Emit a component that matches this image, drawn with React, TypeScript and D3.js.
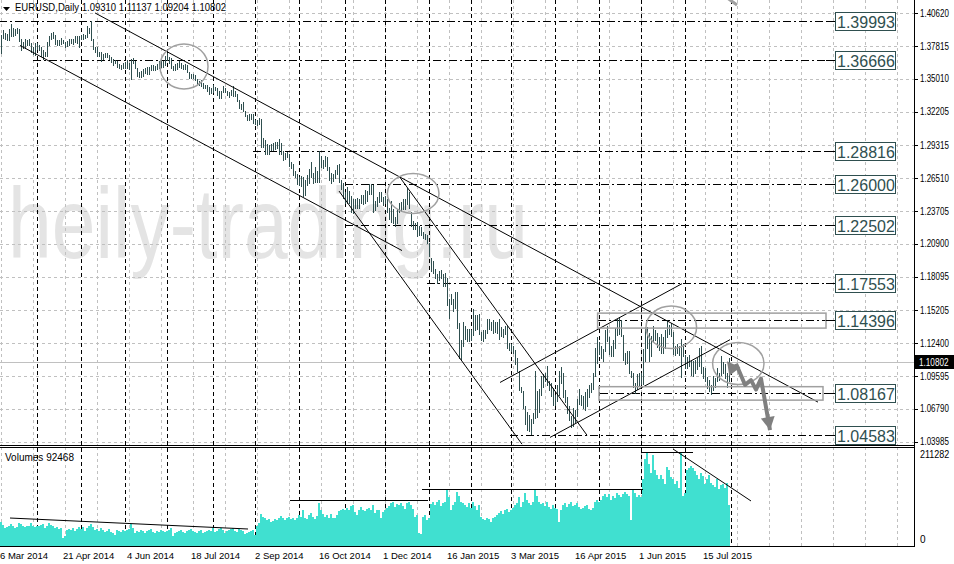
import { useRef, useEffect } from 'react';
import * as d3 from 'd3';

// EURUSD daily bars, one entry per trading day from 6 Mar 2014 to 31 Jul 2015 (price x 10000)
const highs = [
  13873, 13915, 13890, 13885, 13925, 13967, 13935, 13930, 13935, 13925, 13840, 13815, 13845, 13835, 13840, 13805, 13775, 13810,
  13810, 13795, 13770, 13745, 13735, 13820, 13865, 13890, 13905, 13875, 13830, 13835, 13855, 13830, 13815, 13825, 13840, 13845, 13840, 13870, 13865, 13870,
  13880, 13885, 13875, 13950, 13935, 13993, 13845, 13775, 13770, 13735, 13730, 13710, 13725, 13720, 13705, 13690, 13675, 13665, 13655, 13630, 13620, 13640,
  13645, 13660, 13640, 13670, 13677, 13655, 13595, 13560, 13570, 13585, 13590, 13600, 13605, 13620, 13620, 13615, 13630, 13650, 13665, 13655, 13695,
  13720, 13690, 13680, 13610, 13625, 13635, 13650, 13640, 13620, 13625, 13620, 13560, 13545, 13540, 13535, 13500, 13480, 13490, 13470, 13450, 13445, 13430, 13425,
  13445, 13430, 13425, 13395, 13400, 13440, 13420, 13395, 13385, 13410, 13440, 13395, 13375, 13320, 13290, 13300, 13225, 13195, 13205, 13200, 13200,
  13150, 13150, 13170, 13160, 12995, 12975, 12945, 12935, 12945, 12955, 12960, 12965, 12990, 12950, 12885, 12870, 12880, 12860, 12790, 12770, 12710, 12685,
  12660, 12670, 12665, 12635, 12680, 12730, 12790, 12700, 12745, 12710, 12887, 12845, 12810, 12840, 12830, 12750, 12700, 12685, 12720, 12765, 12770, 12640, 12615,
  12530, 12580, 12540, 12500, 12470, 12470, 12480, 12475, 12510, 12510, 12550, 12545, 12600, 12600, 12590, 12460, 12490, 12530, 12530, 12490,
  12500, 12470, 12395, 12455, 12390, 12320, 12390, 12440, 12450, 12470, 12475, 12570, 12530, 12360, 12290, 12270, 12280, 12240, 12235, 12195, 12175, 12170,
  12100, 11970, 11945, 11875, 11830, 11860, 11870, 11830, 11840, 11800, 11620, 11660, 11620, 11680, 11680, 11410, 11270, 11420, 11390, 11360, 11360,
  11350, 11534, 11480, 11480, 11490, 11340, 11350, 11350, 11445, 11450, 11420, 11440, 11420, 11420, 11450, 11380, 11360, 11390, 11390, 11240,
  11230, 11220, 11180, 11110, 11000, 10870, 10830, 10700, 10650, 10630, 10590, 10640, 11000, 10830, 10850, 10960, 10980, 10990, 11050, 10920, 10900, 10860,
  10800, 10880, 11000, 11040, 10990, 10840, 10780, 10700, 10620, 10690, 10670, 10760, 10850, 10800, 10790, 10820, 10850, 10880, 10900, 10990, 11200, 11290,
  11250, 11220, 11190, 11350, 11390, 11290, 11220, 11270, 11370, 11445, 11467, 11440, 11310, 11160, 11170, 11170, 11000, 10990, 10900, 10980, 10990,
  10990, 11190, 11380, 11380, 11330, 11300, 11385, 11350, 11330, 11290, 11320, 11290, 11350, 11436, 11400, 11410, 11340, 11220, 11230, 11220, 11280, 11230,
  11140, 11120, 11140, 11090, 11090, 11100, 11110, 11200, 11215, 11040, 11030, 10950, 10930, 10880, 10960, 10940, 11030, 10990, 11130, 11080, 11060, 10990, 11113.7,
];
const lows = [
  13720, 13850, 13840, 13835, 13830, 13865, 13870, 13880, 13890, 13825, 13750, 13765, 13765, 13795, 13790, 13735, 13715, 13705,
  13760, 13750, 13700, 13673, 13695, 13700, 13790, 13840, 13855, 13800, 13790, 13795, 13800, 13805, 13770, 13780, 13790, 13805, 13800, 13815, 13805, 13775,
  13845, 13845, 13850, 13860, 13895, 13835, 13755, 13735, 13700, 13695, 13650, 13670, 13685, 13690, 13670, 13645, 13620, 13635, 13600, 13590, 13585, 13595,
  13595, 13595, 13585, 13503, 13635, 13590, 13530, 13520, 13515, 13525, 13555, 13540, 13545, 13580, 13580, 13575, 13585, 13595, 13605, 13600, 13620,
  13660, 13640, 13590, 13580, 13580, 13585, 13600, 13590, 13585, 13585, 13560, 13510, 13505, 13505, 13490, 13455, 13450, 13440, 13420, 13420, 13400, 13370, 13380,
  13390, 13405, 13365, 13335, 13335, 13390, 13385, 13360, 13345, 13360, 13355, 13355, 13315, 13255, 13240, 13230, 13185, 13150, 13150, 13160, 13120,
  13115, 13110, 13115, 12920, 12915, 12860, 12860, 12860, 12890, 12895, 12905, 12910, 12860, 12855, 12810, 12820, 12830, 12760, 12735, 12680, 12660, 12600,
  12590, 12585, 12500, 12505, 12590, 12610, 12660, 12615, 12620, 12620, 12620, 12745, 12735, 12760, 12720, 12640, 12615, 12630, 12655, 12690, 12620, 12560, 12480,
  12440, 12440, 12440, 12360, 12355, 12400, 12400, 12400, 12440, 12430, 12440, 12460, 12520, 12520, 12360, 12380, 12410, 12450, 12460, 12420,
  12440, 12360, 12300, 12280, 12270, 12245, 12270, 12360, 12370, 12390, 12390, 12430, 12400, 12240, 12220, 12215, 12160, 12170, 12165, 12140, 12135, 12095,
  11990, 11860, 11840, 11800, 11755, 11780, 11800, 11730, 11730, 11570, 11460, 11580, 11520, 11540, 11370, 11115, 11100, 11220, 11280, 11260, 11260,
  11270, 11310, 11350, 11360, 11320, 11270, 11260, 11285, 11325, 11360, 11350, 11330, 11340, 11330, 11280, 11300, 11290, 11320, 11200, 11180,
  11170, 11160, 11060, 11000, 10840, 10820, 10690, 10550, 10500, 10490, 10462, 10560, 10600, 10610, 10650, 10800, 10870, 10920, 10880, 10840, 10790, 10710,
  10710, 10750, 10800, 10900, 10780, 10740, 10640, 10580, 10520, 10530, 10570, 10620, 10720, 10710, 10690, 10670, 10700, 10780, 10820, 10850, 10960, 11070,
  11150, 11110, 11090, 11170, 11260, 11150, 11130, 11130, 11200, 11310, 11320, 11300, 11100, 11060, 11070, 10990, 10950, 10865, 10819, 10850, 10880,
  10890, 10890, 11090, 11200, 11090, 11130, 11260, 11270, 11210, 11180, 11160, 11160, 11200, 11290, 11320, 11300, 11150, 11140, 11160, 11140, 10950, 11130,
  11030, 11030, 11050, 10970, 10960, 10990, 11020, 11050, 10990, 10940, 10920, 10860, 10830, 10809, 10840, 10870, 10920, 10930, 10970, 10990, 10940, 10870, 10920.4,
];
// tick volume, thousands
const volumes = [
  55, 48, 40, 42, 44, 50, 46, 40, 42, 52, 50, 44, 42, 44, 46, 52, 45, 42,
  44, 46, 48, 50, 40, 46, 52, 48, 44, 40, 42, 38, 40, 18, 22, 36, 38, 36, 40, 34, 38, 42,
  38, 42, 34, 40, 44, 50, 42, 36, 38, 34, 40, 36, 32, 34, 38, 32, 30, 24, 36, 34, 32, 36,
  34, 36, 38, 50, 40, 30, 34, 32, 36, 34, 30, 34, 36, 38, 32, 30, 34, 32, 36, 34, 32,
  34, 36, 40, 22, 30, 32, 34, 36, 32, 30, 34, 36, 38, 34, 32, 30, 34, 36, 30, 32, 34, 36, 34,
  40, 32, 34, 38, 40, 36, 30, 34, 36, 38, 40, 34, 32, 38, 36, 34, 26, 30, 32, 34, 36,
  24, 46, 52, 72, 66, 62, 58, 60, 54, 56, 60, 58, 62, 68, 64, 58, 62, 66, 60, 64, 58, 62,
  70, 66, 80, 62, 60, 70, 74, 66, 60, 68, 97, 82, 72, 66, 70, 64, 72, 62, 64, 70, 78, 80, 84,
  80, 86, 82, 90, 92, 76, 70, 82, 88, 80, 78, 84, 86, 80, 92, 74, 80, 82, 64, 76,
  80, 86, 90, 96, 100, 88, 94, 92, 96, 90, 84, 96, 98, 92, 84, 66, 70, 30, 28, 65, 70, 58,
  62, 95, 100, 92, 98, 104, 90, 96, 100, 128, 110, 82, 92, 100, 121, 112, 100, 96, 92, 88, 96,
  86, 100, 90, 80, 92, 66, 60, 58, 64, 60, 54, 62, 66, 70, 74, 78, 72, 80, 84, 76,
  82, 86, 92, 96, 110, 88, 100, 119, 104, 96, 92, 100, 126, 112, 100, 94, 96, 90, 100, 88, 84, 92,
  86, 84, 54, 80, 92, 96, 88, 94, 98, 90, 92, 96, 88, 84, 86, 90, 92, 84, 80, 86, 98, 104,
  100, 104, 112, 118, 110, 116, 104, 112, 108, 120, 114, 110, 118, 122, 116, 112, 58, 126, 120, 110, 114,
  110, 150, 195, 209, 185, 165, 205, 170, 160, 150, 160, 150, 140, 178, 170, 155, 150, 140, 145, 130, 209, 112,
  120, 170, 175, 180, 176, 168, 160, 150, 165, 158, 140, 150, 160, 142, 138, 132, 150, 128, 136, 140, 130, 142, 92.468,
];

const quote = [1.0931, 1.11137, 1.09204, 1.10802];
const priceTicks = [1.4062, 1.37815, 1.3501, 1.32205, 1.29315, 1.2651, 1.23705, 1.209, 1.18095, 1.15205, 1.124, 1.09595, 1.0679, 1.03985];
const volumeMax = 211282;
const dateTicks = ['6 Mar 2014', '21 Apr 2014', '4 Jun 2014', '18 Jul 2014', '2 Sep 2014', '16 Oct 2014', '1 Dec 2014',
  '16 Jan 2015', '3 Mar 2015', '16 Apr 2015', '1 Jun 2015', '15 Jul 2015'];

// horizontal levels and the bar each one starts from
const levels = [1.39993, 1.36666, 1.28816, 1.26, 1.22502, 1.17553, 1.14396, 1.08167, 1.04583];
const levelFrom = [-1, 16, 126, 172, 172, 213, 298.5, 299.5, 254.5];

// drawn objects, in bar index / price
const trendLines = [
  [47, 1.4065, 408.5, 1.0737],
  [9.5, 1.3787, 200.5, 1.2033],
  [169, 1.2542, 260.5, 1.0377],
  [199, 1.267, 293, 1.0454],
  [249.5, 1.0905, 340.5, 1.175],
  [274.5, 1.0435, 364.5, 1.1271],
];
const ellipses = [
  [79.5, 1.38, 103.5, 1.3415],
  [193.2, 1.2693, 219, 1.2351],
  [322.5, 1.1558, 347.8, 1.1196],
  [355.8, 1.1247, 381.5, 1.0888],
];
const boxes = [
  [298.3, 1.1498, 412.5, 1.137],
  [299, 1.0869, 411, 1.0754],
];
const arrowPath = [[363, 1.1087], [367.5, 1.1065], [372, 1.0885], [375, 1.0925], [377.5, 1.0844], [380, 1.0938], [384.5, 1.0498]];
const topStroke = [[362.5, 1.4201], [368, 1.4133]];
// lines on the volume window: bar, volume, bar, volume
const volumeLines = [
  [4.5, 62900, 123.5, 38200],
  [144.5, 101200, 213.5, 101200],
  [210.5, 128100, 321, 128100],
  [320, 209100, 346, 209100],
  [336, 218000, 375, 101200],
];

function tradingDays(count: number) {
  const out: Date[] = [];
  let d = new Date(2014, 2, 6);
  const fmt = d3.timeFormat('%m-%d');
  while (out.length < count) {
    const wd = d.getDay();
    const k = fmt(d);
    if (wd !== 0 && wd !== 6 && k !== '12-25' && k !== '01-01') out.push(d);
    d = d3.timeDay.offset(d, 1);
  }
  return out;
}

const FONT = '"Liberation Sans", Arial, sans-serif';

export default function App() {
  const ref = useRef<SVGSVGElement>(null);

  useEffect(() => {
    if (!ref.current) return;
    const svg = d3.select(ref.current);
    svg.selectAll('*').remove();

    const W = 954, H = 564, right = 914;
    const mainBottom = 445, volTop = 447, volBottom = 546;
    const x = d3.scaleLinear().domain([0, 456.5]).range([1, 914]);
    const y = d3.scaleLinear().domain([1.03985, 1.4062]).range([441.7, 13.3]);
    const yv = d3.scaleLinear().domain([0, volumeMax]).range([volBottom, 452]);
    const days = tradingDays(460);
    const parse = d3.timeParse('%d %b %Y');
    const idxOf = (s: string) => days.findIndex((d) => +d === +(parse(s) as Date));
    const px = (v: number) => Math.round(v) + 0.5;
    const p = (v: number) => v / 10000;
    const f5 = d3.format('.5f');

    svg.append('rect').attr('width', W).attr('height', H).attr('fill', '#fff');

    const defs = svg.append('defs');
    defs.append('clipPath').attr('id', 'main-clip').append('rect').attr('width', right).attr('height', mainBottom);
    defs.append('clipPath').attr('id', 'vol-clip').append('rect').attr('y', volTop).attr('width', right).attr('height', volBottom - volTop);

    // watermark
    svg.append('text')
      .attr('x', 8).attr('y', 258)
      .attr('font-family', FONT).attr('font-size', 100)
      .attr('fill', '#e4e4e4')
      .attr('textLength', 520).attr('lengthAdjust', 'spacingAndGlyphs')
      .text('heily-trading.ru');

    // grid
    const grid = svg.append('g').attr('stroke', '#c0c0c0').attr('stroke-dasharray', '3,3').attr('shape-rendering', 'crispEdges');
    priceTicks.forEach((t) => {
      grid.append('line').attr('x1', 0).attr('x2', right).attr('y1', px(y(t))).attr('y2', px(y(t)));
    });
    d3.range(0, 457, 16).forEach((i) => {
      grid.append('line').attr('x1', px(x(i))).attr('x2', px(x(i))).attr('y1', 0).attr('y2', mainBottom);
      grid.append('line').attr('x1', px(x(i))).attr('x2', px(x(i))).attr('y1', volTop).attr('y2', volBottom);
    });

    // monthly period separators
    const seps = svg.append('g').attr('stroke', '#000').attr('stroke-dasharray', '4,3').attr('shape-rendering', 'crispEdges');
    d3.timeMonth.range(new Date(2014, 3, 1), new Date(2015, 8, 1)).forEach((m) => {
      const i = days.findIndex((d) => d >= m);
      seps.append('line').attr('x1', px(x(i))).attr('x2', px(x(i))).attr('y1', 0).attr('y2', volBottom);
    });

    // horizontal levels
    const lv = svg.append('g').attr('shape-rendering', 'crispEdges');
    levels.forEach((l, k) => {
      lv.append('line')
        .attr('x1', x(levelFrom[k])).attr('x2', 836)
        .attr('y1', px(y(l))).attr('y2', px(y(l)))
        .attr('stroke', '#000').attr('stroke-dasharray', '8,3,2,3');
    });

    // current price line
    svg.append('line').attr('x1', 0).attr('x2', right)
      .attr('y1', px(y(quote[3]))).attr('y2', px(y(quote[3])))
      .attr('stroke', '#c0c0c0').attr('shape-rendering', 'crispEdges');

    // price bars
    const bars = svg.append('g').attr('clip-path', 'url(#main-clip)').attr('stroke', '#2f4f4f').attr('shape-rendering', 'crispEdges');
    highs.forEach((h, i) => {
      bars.append('line').attr('x1', px(x(i))).attr('x2', px(x(i)))
        .attr('y1', Math.round(y(p(h)))).attr('y2', Math.round(y(p(lows[i]))) + 1);
    });

    // drawn objects
    const obj = svg.append('g').attr('clip-path', 'url(#main-clip)').attr('fill', 'none');
    trendLines.forEach(([i1, p1, i2, p2]) => {
      obj.append('line').attr('x1', x(i1)).attr('y1', y(p1)).attr('x2', x(i2)).attr('y2', y(p2))
        .attr('stroke', '#000').attr('stroke-width', 1);
    });
    ellipses.forEach(([i1, p1, i2, p2]) => {
      obj.append('ellipse')
        .attr('cx', (x(i1) + x(i2)) / 2).attr('cy', (y(p1) + y(p2)) / 2)
        .attr('rx', (x(i2) - x(i1)) / 2).attr('ry', Math.abs(y(p2) - y(p1)) / 2)
        .attr('stroke', '#a0a0a0').attr('stroke-width', 1.5);
    });
    boxes.forEach(([i1, p1, i2, p2]) => {
      obj.append('rect')
        .attr('x', x(i1)).attr('y', y(p1)).attr('width', x(i2) - x(i1)).attr('height', y(p2) - y(p1))
        .attr('stroke', '#a0a0a0').attr('stroke-width', 1.5);
    });
    const pts = arrowPath.map(([i, v]) => [x(i), y(v)] as [number, number]);
    obj.append('path').attr('d', d3.line()(pts.slice(1)))
      .attr('stroke', '#808080').attr('stroke-width', 4).attr('stroke-linejoin', 'round');
    const head = (tip: [number, number], from: [number, number]) => {
      const a = Math.atan2(tip[1] - from[1], tip[0] - from[0]);
      const L = 13, Wd = 7;
      const bx = tip[0] - L * Math.cos(a), by = tip[1] - L * Math.sin(a);
      obj.append('path')
        .attr('d', `M${tip[0]},${tip[1]}L${bx + Wd * Math.sin(a)},${by - Wd * Math.cos(a)}L${bx - Wd * Math.sin(a)},${by + Wd * Math.cos(a)}Z`)
        .attr('fill', '#808080');
    };
    head(pts[0], pts[2]);
    head(pts[pts.length - 1], pts[pts.length - 2]);
    obj.append('path').attr('d', d3.line()(topStroke.map(([i, v]) => [x(i), y(v)] as [number, number])))
      .attr('stroke', '#a0a0a0').attr('stroke-width', 3);

    // level labels
    levels.forEach((l) => {
      const cy = y(l);
      svg.append('line').attr('x1', 826).attr('x2', 836).attr('y1', px(cy)).attr('y2', px(cy)).attr('stroke', '#000');
      svg.append('rect').attr('x', 835.5).attr('y', Math.round(cy) - 8.5).attr('width', 60).attr('height', 18)
        .attr('fill', '#fff').attr('stroke', '#2f4f4f');
      svg.append('text').attr('x', 837).attr('y', Math.round(cy) + 6.5)
        .attr('font-family', FONT).attr('font-size', 16).attr('fill', '#2f4f4f')
        .text(f5(l));
    });

    // volumes
    const vol = svg.append('g').attr('clip-path', 'url(#vol-clip)');
    volumes.forEach((v, i) => {
      const top = Math.round(yv(v * 1000));
      vol.append('rect').attr('x', x(i) - 1).attr('width', 2).attr('y', top).attr('height', volBottom - top)
        .attr('fill', '#40e0d0');
    });
    volumeLines.forEach(([i1, v1, i2, v2]) => {
      vol.append('line').attr('x1', x(i1)).attr('y1', yv(v1)).attr('x2', x(i2)).attr('y2', yv(v2))
        .attr('stroke', '#000').attr('shape-rendering', v1 === v2 ? 'crispEdges' : 'auto');
    });

    // frame
    const frame = svg.append('g').attr('stroke', '#000').attr('shape-rendering', 'crispEdges');
    frame.append('line').attr('x1', 0).attr('x2', right).attr('y1', mainBottom + 0.5).attr('y2', mainBottom + 0.5);
    frame.append('line').attr('x1', 0).attr('x2', right).attr('y1', volTop + 0.5).attr('y2', volTop + 0.5);
    frame.append('line').attr('x1', 0).attr('x2', right).attr('y1', volBottom + 0.5).attr('y2', volBottom + 0.5);
    frame.append('line').attr('x1', right + 0.5).attr('x2', right + 0.5).attr('y1', 0).attr('y2', volBottom + 1);

    // price axis (narrow labels, squeezed horizontally)
    const axis = svg.append('g').attr('font-family', FONT).attr('font-size', 10).attr('fill', '#000');
    priceTicks.forEach((t) => {
      frame.append('line').attr('x1', right).attr('x2', right + 4).attr('y1', px(y(t))).attr('y2', px(y(t)));
      axis.append('text').attr('transform', `translate(920,${y(t) + 3.5}) scale(0.8,1)`).text(f5(t));
    });
    const cy = y(quote[3]);
    svg.append('rect').attr('x', 915).attr('y', Math.round(cy) - 7).attr('width', 39).attr('height', 14).attr('fill', '#000');
    svg.append('text').attr('transform', `translate(919,${Math.round(cy) + 4}) scale(0.82,1)`)
      .attr('font-family', FONT).attr('font-size', 10).attr('fill', '#fff')
      .text(f5(quote[3]));
    axis.append('text').attr('transform', 'translate(920,458) scale(0.9,1)').text(String(volumeMax));
    axis.append('text').attr('x', 920).attr('y', 543).text('0');

    // date axis
    dateTicks.forEach((s) => {
      const i = idxOf(s);
      axis.append('text').attr('x', Math.max(0, x(i) - 2)).attr('y', 559).attr('font-size', 9.5).text(s);
    });

    // headers
    svg.append('path').attr('d', 'M3,7L10,7L6.5,11Z').attr('fill', '#000');
    svg.append('text').attr('x', 15).attr('y', 11)
      .attr('font-family', FONT).attr('font-size', 10).attr('fill', '#000')
      .attr('textLength', 211).attr('lengthAdjust', 'spacingAndGlyphs')
      .text(`EURUSD,Daily  ${quote.map((q) => f5(q)).join(' ')}`);
    svg.append('text').attr('x', 5).attr('y', 461)
      .attr('font-family', FONT).attr('font-size', 10).attr('fill', '#000')
      .text(`Volumes ${Math.round(volumes[volumes.length - 1] * 1000)}`);
  }, []);

  return (
    <svg ref={ref} width={954} height={564} style={{ position: 'absolute', left: 0, top: 0, display: 'block' }} />
  );
}
